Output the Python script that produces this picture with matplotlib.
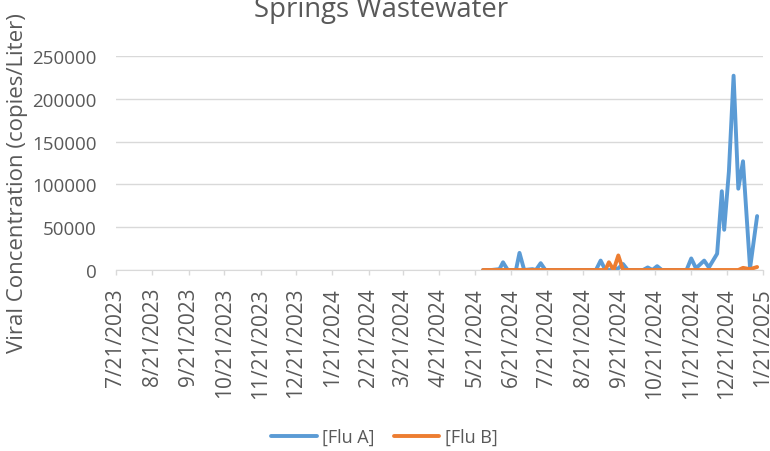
import pandas as pd
import matplotlib
matplotlib.use('Agg')
from matplotlib import pyplot as plt

plt.rcParams['font.family'] = ['Open Sans', 'DejaVu Sans']

# sample dates (roughly twice a week near the end)
dates = ['2024-05-28', '2024-06-04', '2024-06-11', '2024-06-14', '2024-06-18',
         '2024-06-25', '2024-06-28', '2024-07-02', '2024-07-09', '2024-07-12',
         '2024-07-16', '2024-07-20', '2024-07-27', '2024-08-03', '2024-08-10',
         '2024-08-17', '2024-08-24', '2024-09-01', '2024-09-05', '2024-09-09',
         '2024-09-12', '2024-09-16', '2024-09-20', '2024-09-24', '2024-09-28',
         '2024-10-05', '2024-10-11', '2024-10-15', '2024-10-19', '2024-10-23',
         '2024-10-27', '2024-11-03', '2024-11-10', '2024-11-17', '2024-11-21',
         '2024-11-25', '2024-12-02', '2024-12-06', '2024-12-13', '2024-12-17',
         '2024-12-19', '2024-12-23', '2024-12-27', '2024-12-31', '2025-01-04',
         '2025-01-10', '2025-01-16']

flu_a = [0, 0, 1000, 9000, 0,
         0, 20000, 0, 1000, 0,
         8000, 0, 0, 0, 0,
         0, 0, 0, 11000, 0,
         0, 0, 2000, 7000, 0,
         0, 0, 3000, 0, 4500,
         0, 0, 0, 0, 13500,
         2000, 11000, 3000, 19000, 92000,
         47000, 115000, 227000, 95000, 127000,
         2000, 63000]

flu_b = [0, 0, 0, 0, 0,
         0, 0, 0, 0, 0,
         0, 0, 0, 0, 0,
         0, 0, 0, 0, 0,
         9000, 0, 17000, 0, 0,
         0, 0, 0, 0, 0,
         0, 0, 0, 0, 0,
         0, 0, 0, 0, 0,
         0, 0, 0, 0, 2500,
         1000, 3500]

# month ticks on the 21st, 7/21/2023 .. 1/21/2025
tick_dates = pd.date_range('2023-07-01', periods=19, freq='MS') + pd.Timedelta(days=20)
y_ticks = [0, 50000, 100000, 150000, 200000, 250000]

data = pd.DataFrame({'date': pd.to_datetime(dates), 'Flu A': flu_a, 'Flu B': flu_b})

grey = '#595959'
light = '#d9d9d9'

fig = plt.figure(figsize=(7.7, 4.52), dpi=100)
ax = fig.add_axes([116/770, 1-271/452, 647/770, 214/452])

ax.plot(data['date'], data['Flu A'], color='#5B9BD5', lw=2.8, label='[Flu A]',
        solid_joinstyle='round', solid_capstyle='round')
ax.plot(data['date'], data['Flu B'], color='#ED7D31', lw=2.8, label='[Flu B]',
        solid_joinstyle='round', solid_capstyle='round')

ax.set_xlim(tick_dates[0], tick_dates[-1])
ax.set_ylim(0, 250000)
ax.set_xticks(tick_dates)
ax.set_xticklabels([f'{d.month}/{d.day}/{d.year}' for d in tick_dates],
                   rotation=90, fontsize=15, color=grey)
ax.set_yticks(y_ticks)
ax.set_yticklabels([str(v) for v in y_ticks], fontsize=13.5, color=grey)
ax.tick_params(axis='x', length=3.6, color=light, width=1, pad=8.6)
ax.tick_params(axis='y', length=0, pad=13.7)
ax.grid(axis='y', color=light, lw=1)
ax.set_axisbelow(True)
for s in ['top', 'right', 'left']:
    ax.spines[s].set_visible(False)
ax.spines['bottom'].set_color(light)

# title sits partly above the top edge, as in the original
fig.text(381/770, 1-17/452, 'Springs Wastewater', fontsize=19.8, color=grey,
         ha='center', va='baseline')
fig.text(18/770, 1-183/452, 'Viral Concentration (copies/Liter)', fontsize=16,
         color=grey, rotation=90, ha='center', va='center')

fig.legend(loc='center', bbox_to_anchor=(0.4994, 0.031), ncol=2, frameon=False,
           fontsize=13, handlelength=2.5, handletextpad=0.3, columnspacing=1.1,
           labelcolor=grey)

fig.savefig('out.png', dpi=100)
